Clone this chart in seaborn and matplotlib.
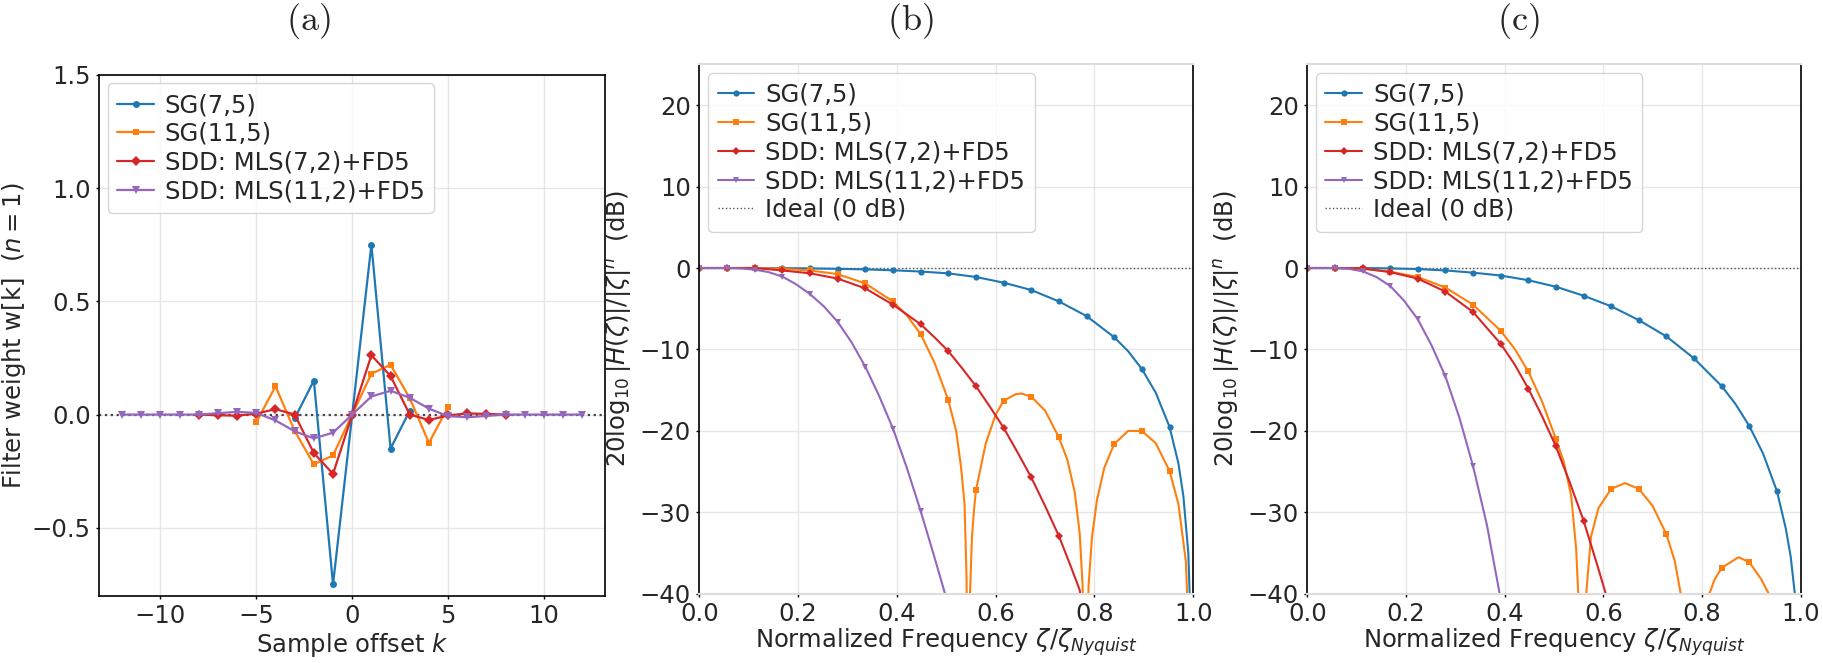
import numpy as np
import matplotlib
matplotlib.use("Agg")
import matplotlib.pyplot as plt
import seaborn as sns

# ---------------- Panel (a): filter weights (n = 1) ----------------
k_sg75 = [-3, -2, -1, 0, 1, 2, 3]
w_sg75 = [-0.017, 0.15, -0.75, 0.0, 0.75, -0.15, 0.017]
k_sg115 = list(range(-5, 6))
w_sg115 = [-0.034, 0.125, -0.072, -0.22, -0.18, 0.0, 0.18, 0.22, 0.072, -0.125, 0.034]
k_sdd7 = list(range(-8, 9))
w_sdd7 = [0.0, -0.003, -0.005, 0.004, 0.024, 0.0, -0.17, -0.262, 0.0,
          0.262, 0.17, 0.0, -0.024, -0.004, 0.005, 0.003, 0.0]
k_sdd11 = list(range(-12, 13))
w_sdd11 = [0.0, 0.0, 0.0, 0.0, 0.0, 0.006, 0.012, 0.007, -0.026, -0.074, -0.105, -0.08, 0.0,
           0.08, 0.105, 0.074, 0.026, -0.007, -0.012, -0.006, 0.0, 0.0, 0.0, 0.0, 0.0]

# ---------------- Panel (b): response (dB) ----------------
zb_sg75 = [0, 0.056, 0.112, 0.168, 0.224, 0.28, 0.336, 0.392, 0.448, 0.504, 0.56, 0.616, 0.672,
           0.728, 0.784, 0.84, 0.868, 0.896, 0.924, 0.952, 0.97, 0.98, 0.99, 0.997]
db_b_sg75 = [0, 0, 0, -0.02, -0.05, -0.1, -0.17, -0.28, -0.43, -0.66, -1.1, -1.8, -2.7,
             -4.1, -5.9, -8.5, -10.2, -12.4, -15.3, -19.5, -24, -28, -35, -48]
zb_sg115 = [0, 0.056, 0.112, 0.168, 0.224, 0.28, 0.336, 0.392, 0.42, 0.448, 0.476, 0.504, 0.52,
            0.53, 0.537, 0.541, 0.544, 0.548, 0.552, 0.556, 0.56, 0.58, 0.60, 0.616, 0.64, 0.652,
            0.672, 0.70, 0.728, 0.745, 0.76, 0.77, 0.776, 0.782, 0.784, 0.788, 0.795, 0.805, 0.82,
            0.84, 0.868, 0.896, 0.924, 0.952, 0.97, 0.985, 0.997]
db_b_sg115 = [0, 0, 0, -0.1, -0.3, -0.75, -1.9, -4.1, -5.8, -8.1, -11.6, -16.2, -20,
              -24.5, -29, -38, -60, -40, -33, -29.8, -27.3, -21.5, -18, -16.3, -15.5, -15.4,
              -15.8, -17.5, -20.8, -23.5, -27.5, -32.5, -39, -60, -55, -39, -33, -28.5, -24.5,
              -21.6, -20.0, -20.0, -21.5, -24.9, -29, -36, -55]
zb_sdd7 = [0, 0.056, 0.112, 0.168, 0.224, 0.28, 0.336, 0.392, 0.42, 0.448, 0.476, 0.504, 0.532,
           0.56, 0.588, 0.616, 0.644, 0.672, 0.70, 0.728, 0.75, 0.77, 0.785]
db_b_sdd7 = [0, 0, 0, -0.3, -0.65, -1.3, -2.5, -4.5, -5.7, -6.9, -8.5, -10.2, -12.3,
             -14.5, -17.0, -19.6, -22.6, -25.7, -29.2, -32.9, -36.3, -39.5, -46]
zb_sdd11 = [0, 0.056, 0.084, 0.112, 0.14, 0.168, 0.196, 0.224, 0.252, 0.28, 0.308, 0.336,
            0.364, 0.392, 0.42, 0.448, 0.476, 0.50, 0.52]
db_b_sdd11 = [0, 0, -0.05, -0.2, -0.5, -1.05, -2.0, -3.2, -4.7, -6.6, -9.1, -12.1,
              -15.7, -19.7, -24.5, -29.8, -35.5, -40.5, -45]

# ---------------- Panel (c): response (dB) ----------------
zc_sg75 = [0, 0.056, 0.112, 0.168, 0.224, 0.28, 0.336, 0.392, 0.448, 0.504, 0.56, 0.616, 0.672,
           0.728, 0.784, 0.84, 0.868, 0.896, 0.924, 0.952, 0.97, 0.98, 0.99, 0.997]
db_c_sg75 = [0, 0, 0, -0.05, -0.13, -0.3, -0.57, -0.92, -1.5, -2.3, -3.4, -4.7, -6.4,
             -8.4, -11.1, -14.5, -16.7, -19.4, -22.8, -27.4, -32, -35.5, -41, -50]
zc_sg115 = [0, 0.056, 0.112, 0.168, 0.224, 0.28, 0.336, 0.392, 0.42, 0.448, 0.476, 0.504, 0.52,
            0.535, 0.545, 0.55, 0.557, 0.564, 0.575, 0.59, 0.616, 0.644, 0.672, 0.70, 0.728,
            0.745, 0.757, 0.784, 0.815, 0.825, 0.84, 0.874, 0.896, 0.92, 0.94, 0.952]
db_c_sg115 = [0, 0, -0.1, -0.45, -1.1, -2.4, -4.5, -7.7, -9.9, -12.7, -16.4, -21.0, -23.8,
              -28, -34.5, -41, -60, -41, -33, -29.5, -27.1, -26.4, -27.1, -29.2, -32.7,
              -36, -40, -60, -40, -38.3, -36.8, -35.5, -36.1, -38.2, -40.5, -43]
zc_sdd7 = [0, 0.056, 0.112, 0.168, 0.224, 0.28, 0.336, 0.392, 0.42, 0.448, 0.476, 0.504, 0.532,
           0.56, 0.588, 0.61]
db_c_sdd7 = [0, 0, -0.05, -0.5, -1.3, -2.9, -5.4, -9.3, -11.8, -14.8, -18.2, -21.9, -26.3,
             -31.0, -36.5, -41]
zc_sdd11 = [0, 0.056, 0.084, 0.112, 0.14, 0.168, 0.196, 0.224, 0.252, 0.28, 0.308, 0.336,
            0.364, 0.39, 0.40]
db_c_sdd11 = [0, 0, -0.1, -0.4, -1.1, -2.2, -4.0, -6.3, -9.5, -13.3, -18.3, -24.3,
              -31.5, -40, -45]

labels = ["SG(7,5)", "SG(11,5)", "SDD: MLS(7,2)+FD5", "SDD: MLS(11,2)+FD5"]
colors = ["#1f77b4", "#ff7f0e", "#d62728", "#9467bd"]
markers = ["o", "s", "D", "v"]
msizes = [5, 5, 5, 5.5]
MARK_STEP = 0.056
FS = 17.5

sns.set_style("whitegrid", {"grid.color": "#e6e6e6", "axes.edgecolor": "black"})
plt.rcParams["font.family"] = ["DejaVu Sans"]
plt.rcParams["mathtext.fontset"] = "dejavusans"

fig = plt.figure(figsize=(18.24, 6.63), dpi=100)
ax_a = fig.add_axes([0.0543, 0.1014, 0.2776, 0.7858])
ax_b = fig.add_axes([0.3834, 0.1042, 0.2708, 0.7988])
ax_c = fig.add_axes([0.7167, 0.1042, 0.2705, 0.7988])


def legend(ax):
    ax.legend(loc="upper left", fontsize=FS, labelspacing=0.2, handlelength=1.5,
              handletextpad=0.45, borderaxespad=0.35, borderpad=0.4, framealpha=0.8,
              edgecolor="0.8")


# ---- panel (a)
ax_a.axhline(0, color="#444444", ls=":", lw=1.6, zorder=1)
for kk, ww, c, m, ms, lab in zip([k_sg75, k_sg115, k_sdd7, k_sdd11],
                                 [w_sg75, w_sg115, w_sdd7, w_sdd11],
                                 colors, markers, msizes, labels):
    sns.lineplot(x=kk, y=ww, ax=ax_a, color=c, marker=m, markersize=ms, markeredgewidth=0,
                 markeredgecolor=c, lw=1.6, label=lab, errorbar=None, sort=False)
ax_a.set_xlim(-13.2, 13.2)
ax_a.set_ylim(-0.8, 1.5)
ax_a.set_xticks([-10, -5, 0, 5, 10])
ax_a.set_yticks([-0.5, 0.0, 0.5, 1.0, 1.5])
ax_a.set_xlabel("Sample offset $k$", fontsize=FS, labelpad=2)
ax_a.set_ylabel("Filter weight w[k]  $(n=1)$", fontsize=FS)
ax_a.yaxis.set_label_coords(-0.140, 0.5)
legend(ax_a)

# ---- panels (b), (c)
for ax, zs, ds in [(ax_b, [zb_sg75, zb_sg115, zb_sdd7, zb_sdd11],
                    [db_b_sg75, db_b_sg115, db_b_sdd7, db_b_sdd11]),
                   (ax_c, [zc_sg75, zc_sg115, zc_sdd7, zc_sdd11],
                    [db_c_sg75, db_c_sg115, db_c_sdd7, db_c_sdd11])]:
    for z, d, c, m, ms, lab in zip(zs, ds, colors, markers, msizes, labels):
        z = np.asarray(z, dtype=float)
        mask = list(np.abs(z / MARK_STEP - np.round(z / MARK_STEP)) < 1e-6)
        sns.lineplot(x=z, y=d, ax=ax, color=c, marker=m, markersize=ms - 0.5,
                     markeredgewidth=0, markeredgecolor=c, markevery=mask, lw=1.5,
                     label=lab, errorbar=None, sort=False)
    ax.axhline(0, color="#555555", ls=":", lw=1.0, label="Ideal (0 dB)", zorder=1)
    ax.set_xlim(0, 1)
    ax.set_ylim(-40, 25)
    ax.set_xticks([0.0, 0.2, 0.4, 0.6, 0.8, 1.0])
    ax.set_yticks([-40, -30, -20, -10, 0, 10, 20])
    ax.set_xlabel(r"Normalized Frequency $\zeta/\zeta_{Nyquist}$", fontsize=FS, labelpad=0)
    ax.set_ylabel(r"$20\log_{10}|H(\zeta)|/|\zeta|^n$  (dB)", fontsize=FS)
    ax.yaxis.set_label_coords(-0.132, 0.5)
    for s in ("top", "bottom"):
        ax.spines[s].set_color("#dddddd")
        ax.spines[s].set_linewidth(1.5)
    legend(ax)

for ax in (ax_a, ax_b, ax_c):
    ax.tick_params(labelsize=FS, bottom=True, left=True, length=2.5, pad=3.5, width=1,
                   color="black")
    ax.grid(True, color="#e6e6e6", lw=1.0)
    for s in ("left", "right"):
        ax.spines[s].set_color("black")
        ax.spines[s].set_linewidth(1.2)
for s in ("top", "bottom"):
    ax_a.spines[s].set_color("black")
    ax_a.spines[s].set_linewidth(1.2)

fig.text(0.1689, 0.968, r"$\mathrm{(a)}$", fontsize=26, ha="center", va="center",
         math_fontfamily="cm")
fig.text(0.4989, 0.968, r"$\mathrm{(b)}$", fontsize=26, ha="center", va="center",
         math_fontfamily="cm")
fig.text(0.8322, 0.968, r"$\mathrm{(c)}$", fontsize=26, ha="center", va="center",
         math_fontfamily="cm")

fig.savefig("out.png", dpi=100)
